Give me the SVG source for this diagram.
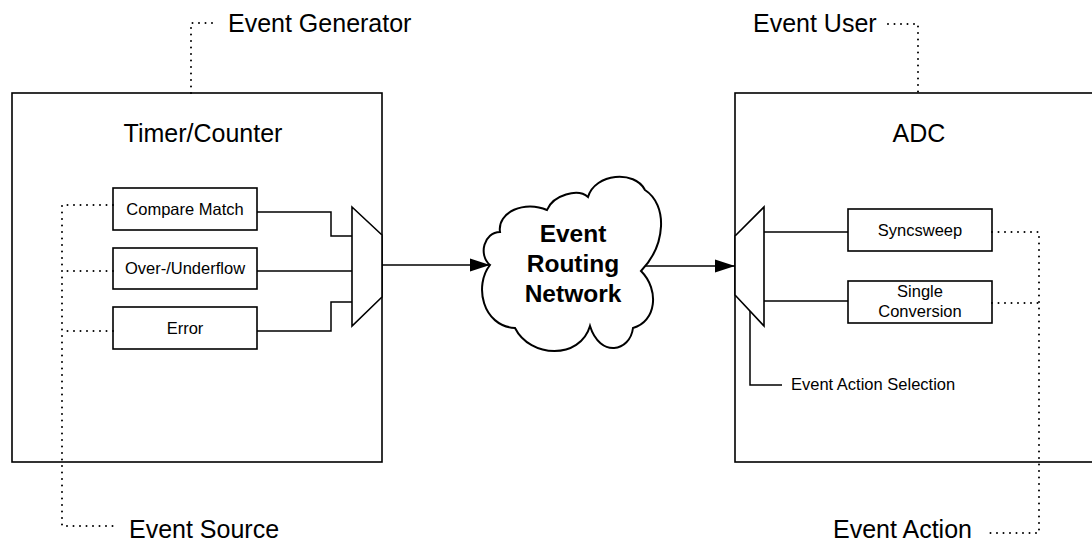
<svg xmlns="http://www.w3.org/2000/svg" width="1092" height="542" viewBox="0 0 1092 542">
<defs>
<style>
.box{fill:#fff;stroke:#000;stroke-width:1.6}
.big{font-family:"Liberation Sans",Arial,sans-serif;font-size:25px;fill:#000}
.sm{font-family:"Liberation Sans",Arial,sans-serif;font-size:16.5px;fill:#000}
.bold{font-family:"Liberation Sans",Arial,sans-serif;font-size:24.5px;font-weight:bold;fill:#000}
.ln{fill:none;stroke:#000;stroke-width:1.5}
.dot{fill:none;stroke:#000;stroke-width:2;stroke-dasharray:0 6.5;stroke-linecap:round}
.mux{fill:#fff;stroke:#000;stroke-width:1.6}
</style>
<marker id="arr" markerWidth="20" markerHeight="14" refX="20" refY="7" orient="auto" markerUnits="userSpaceOnUse">
<path d="M0,0.5 L20,7 L0,13.5 Z" fill="#000"/>
</marker>
</defs>
<rect width="1092" height="542" fill="#fff"/>
<g id="timer-counter">
<rect class="box" x="12" y="93" width="370" height="369"/>
<text class="big" x="203" y="142" text-anchor="middle">Timer/Counter</text>
</g>
<g id="compare-match">
<rect class="box" x="113" y="188" width="144" height="42"/>
<text class="sm" x="185" y="215" text-anchor="middle">Compare Match</text>
</g>
<g id="overflow">
<rect class="box" x="113" y="248" width="144" height="41"/>
<text class="sm" x="185" y="274" text-anchor="middle">Over-/Underflow</text>
</g>
<g id="error">
<rect class="box" x="113" y="307" width="144" height="42"/>
<text class="sm" x="185" y="334" text-anchor="middle">Error</text>
</g>
<g id="adc">
<rect class="box" x="735" y="93" width="400" height="369"/>
<text class="big" x="919" y="142" text-anchor="middle">ADC</text>
</g>
<g id="syncsweep">
<rect class="box" x="848" y="209" width="144" height="42"/>
<text class="sm" x="920" y="236" text-anchor="middle">Syncsweep</text>
</g>
<g id="single-conversion">
<rect class="box" x="848" y="281" width="144" height="42"/>
<text class="sm" x="920" y="297" text-anchor="middle">Single</text>
<text class="sm" x="920" y="317" text-anchor="middle">Conversion</text>
</g>
<g id="connectors">
<path class="ln" d="M257,212 H331 V236 H352"/>
<path class="ln" d="M257,271 H352"/>
<path class="ln" d="M257,331 H331 V302 H352"/>
<path class="ln" d="M382,265 H490" marker-end="url(#arr)"/>
<path class="ln" d="M641,266 H735" marker-end="url(#arr)"/>
<path class="ln" d="M764,232 H848"/>
<path class="ln" d="M764,301 H848"/>
<path class="ln" d="M750,311 V385 H782"/>
<path class="dot" d="M191,93 V23 H216"/>
<path class="dot" d="M888,24 H918 V93"/>
<path class="dot" d="M113,205 H62 V526 H113"/>
<path class="dot" d="M113,271 H62"/>
<path class="dot" d="M113,331 H62"/>
<path class="dot" d="M992,232 H1039 V533 H987"/>
<path class="dot" d="M992,303 H1039"/>
</g>
<g id="mux-left">
<polygon class="mux" points="352,207 382,235 382,297 352,326"/>
</g>
<g id="mux-right">
<polygon class="mux" points="735,236 764,207 764,326 735,295"/>
</g>
<g id="cloud">
<path fill="#fff" stroke="#000" stroke-width="2" d="M490,265 C478,255 484,232 500,232 C497,212 525,200 547,210 C553,195 578,188 588,197 C595,173 635,170 645,190 C668,205 666,245 641,271 C660,290 656,322 633,328 C630,352 600,358 590,326 C580,360 530,358 515,328 C482,326 474,285 490,265 Z"/>
<text class="bold" x="573" y="242" text-anchor="middle">Event</text>
<text class="bold" x="573" y="272" text-anchor="middle">Routing</text>
<text class="bold" x="573" y="302" text-anchor="middle">Network</text>
</g>
<g id="labels">
<text class="big" x="228" y="32">Event Generator</text>
<text class="big" x="753" y="32">Event User</text>
<text class="big" x="129" y="538">Event Source</text>
<text class="big" x="833" y="538">Event Action</text>
<text class="sm" x="791" y="390">Event Action Selection</text>
</g>
</svg>
